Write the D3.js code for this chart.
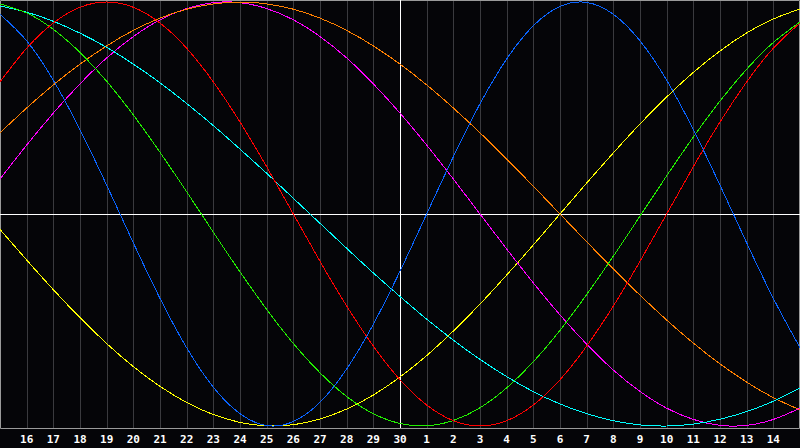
<!DOCTYPE html>
<html>
<head>
<meta charset="utf-8">
<script src="https://cdn.jsdelivr.net/npm/d3@7"></script>
<style>
html,body{margin:0;padding:0;background:#050508;}
svg{display:block;}
</style>
</head>
<body>
<svg id="chart" width="800" height="448"></svg>
<script>
// Day of month at each sample position (left edge = 15th, right edge = 15th next month)
const days = [15,16,17,18,19,20,21,22,23,24,25,26,27,28,29,30,1,2,3,4,5,6,7,8,9,10,11,12,13,14,15];
// Tick labels shown under the chart
const tickLabels = [16,17,18,19,20,21,22,23,24,25,26,27,28,29,30,1,2,3,4,5,6,7,8,9,10,11,12,13,14];

// Cycle values (-1..1) per day
const physical = [0.942,0.817,0.631,0.398,0.136,-0.136,-0.398,-0.631,-0.817,-0.942,-0.998,-0.979,-0.888,-0.731,-0.520,-0.270,0.000,0.270,0.520,0.731,0.888,0.979,0.998,0.942,0.817,0.631,0.398,0.136,-0.136,-0.398,-0.631];
const emotional = [0.623,0.782,0.901,0.975,1.000,0.975,0.901,0.782,0.623,0.434,0.223,0.000,-0.223,-0.434,-0.623,-0.782,-0.901,-0.975,-1.000,-0.975,-0.901,-0.782,-0.623,-0.434,-0.223,0.000,0.223,0.434,0.623,0.782,0.901];
const intellectual = [0.991,0.948,0.871,0.762,0.626,0.467,0.291,0.105,-0.086,-0.273,-0.450,-0.611,-0.749,-0.861,-0.942,-0.988,-0.999,-0.974,-0.914,-0.820,-0.697,-0.549,-0.380,-0.199,-0.010,0.180,0.363,0.533,0.683,0.809,0.906];
const intuitive = [0.165,0.325,0.476,0.614,0.736,0.837,0.916,0.969,0.997,0.997,0.969,0.916,0.837,0.736,0.614,0.476,0.325,0.165,0.000,-0.165,-0.325,-0.476,-0.614,-0.736,-0.837,-0.916,-0.969,-0.997,-0.997,-0.969,-0.916];
const aesthetic = [-0.073,-0.217,-0.357,-0.489,-0.611,-0.720,-0.813,-0.889,-0.946,-0.983,-0.999,-0.994,-0.967,-0.920,-0.854,-0.769,-0.668,-0.552,-0.425,-0.288,-0.146,0.000,0.146,0.288,0.425,0.552,0.668,0.769,0.854,0.920,0.967];
const awareness = [0.383,0.500,0.609,0.707,0.793,0.866,0.924,0.966,0.991,1.000,0.991,0.966,0.924,0.866,0.793,0.707,0.609,0.500,0.383,0.259,0.131,0.000,-0.131,-0.259,-0.383,-0.500,-0.609,-0.707,-0.793,-0.866,-0.924];
const spiritual = [0.981,0.952,0.909,0.853,0.786,0.707,0.619,0.521,0.417,0.306,0.192,0.074,-0.044,-0.162,-0.278,-0.389,-0.496,-0.595,-0.686,-0.767,-0.838,-0.896,-0.942,-0.975,-0.995,-1.000,-0.991,-0.968,-0.932,-0.883,-0.821];

const seriesNames = ["aesthetic","intuitive","awareness","spiritual","intellectual","emotional","physical"];
const seriesColors = ["#ffff00","#ff00ff","#ff8000","#00ffff","#22ee00","#ff0000","#0a64ff"];
const seriesValues = [aesthetic,intuitive,awareness,spiritual,intellectual,emotional,physical];

const svg = d3.select("#chart");
const W = 800, plotBottom = 428;

const x = d3.scaleLinear().domain([0, days.length - 1]).range([0, W]);
const y = d3.scaleLinear().domain([-1, 1]).range([426, 2]);

svg.append("rect").attr("x",0).attr("y",0).attr("width",800).attr("height",448).attr("fill","#050508");

// vertical day grid lines
const gridIdx = d3.range(1, days.length - 1);
svg.append("g").selectAll("line").data(gridIdx).join("line")
  .attr("x1", d => Math.round(x(d)) + 0.5).attr("x2", d => Math.round(x(d)) + 0.5)
  .attr("y1", 0).attr("y2", plotBottom)
  .attr("stroke", "#3a3a3e").attr("stroke-width", 1);

// frame
svg.append("path")
  .attr("d", `M0.5,${plotBottom + 0.5}V0.5H799.5V${plotBottom + 0.5}Z`)
  .attr("fill","none").attr("stroke","#9a9a9a").attr("stroke-width",1);

// zero line and today line
svg.append("line").attr("x1",0).attr("x2",W).attr("y1",Math.round(y(0))+0.5).attr("y2",Math.round(y(0))+0.5)
  .attr("stroke","#ffffff").attr("stroke-width",1);
svg.append("line").attr("x1",Math.round(x(15))+0.5).attr("x2",Math.round(x(15))+0.5).attr("y1",0).attr("y2",plotBottom)
  .attr("stroke","#ffffff").attr("stroke-width",1);

// curves
const line = d3.line().x((d,i) => x(i)).y(d => y(d)).curve(d3.curveNatural);
svg.append("g").selectAll("path").data(seriesValues).join("path")
  .attr("d", d => line(d))
  .attr("fill","none")
  .attr("stroke", (d,i) => seriesColors[i])
  .attr("stroke-width", 1)
  .attr("shape-rendering","crispEdges");

// tick labels
svg.append("g").selectAll("text").data(tickLabels).join("text")
  .attr("x", (d,i) => x(i + 1))
  .attr("y", 443)
  .attr("text-anchor","middle")
  .attr("fill","#ffffff")
  .attr("font-family","'DejaVu Sans Mono', monospace")
  .attr("font-weight","bold")
  .attr("font-size","11px")
  .text(d => d);
</script>
</body>
</html>
